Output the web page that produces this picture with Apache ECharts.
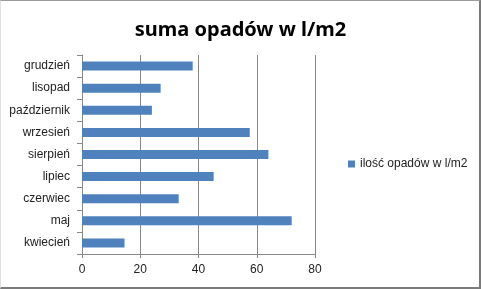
<!DOCTYPE html>
<html><head><meta charset="utf-8">
<script src="https://cdn.jsdelivr.net/npm/echarts@6/dist/echarts.min.js"></script>
<style>
html,body{margin:0;padding:0;background:#fff;}
#frame{position:absolute;left:0;top:0;width:478px;height:286px;border-top:1px solid #9a9a9a;border-left:1px solid #e0e0e0;border-right:2px solid #7a7a7a;border-bottom:2px solid #7a7a7a;}
#c{position:absolute;left:0;top:0;width:481px;height:289px;}
</style></head>
<body>
<div id="frame"></div>
<div id="c"></div>
<script>
const categories = ['kwiecień','maj','czerwiec','lipiec','sierpień','wrzesień','październik','lisopad','grudzień'];
const values = [14.6, 72, 33.2, 45.2, 64, 57.6, 24, 27, 38];
const seriesName = 'ilość opadów w l/m2';
const xTicks = [0, 20, 40, 60, 80];

const chart = echarts.init(document.getElementById('c'), null, {renderer:'canvas'});
chart.setOption({
  animation:false,
  title:{text:'suma opadów w l/m2', left:'center', top:15,
    textStyle:{fontFamily:'Noto Sans', fontWeight:'bold', fontSize:20, color:'#000'}},
  grid:{left:82, top:55, width:233, height:199, containLabel:false},
  legend:{show:true, left:343, top:153, itemWidth:7, itemHeight:7, itemGap:4,
    icon:'rect', textStyle:{fontFamily:'Liberation Sans', fontSize:12, color:'#222'},
    data:[seriesName]},
  xAxis:{type:'value', min:xTicks[0], max:xTicks[xTicks.length-1], interval:20,
    axisLine:{show:true, lineStyle:{color:'#888'}},
    axisTick:{show:true, length:4, lineStyle:{color:'#888'}},
    axisLabel:{fontFamily:'Liberation Sans', fontSize:12, color:'#222', margin:10},
    splitLine:{show:true, lineStyle:{color:'#888', width:1}}},
  yAxis:{type:'category', data:categories,
    axisLine:{show:true, lineStyle:{color:'#888'}},
    axisTick:{show:true, length:5, lineStyle:{color:'#888'}},
    axisLabel:{fontFamily:'Liberation Sans', fontSize:12, color:'#222', margin:12}},
  series:[{name:seriesName, type:'bar', data:values, barWidth:9,
    itemStyle:{color:'#4F81BD'}}]
});
</script>
</body></html>
